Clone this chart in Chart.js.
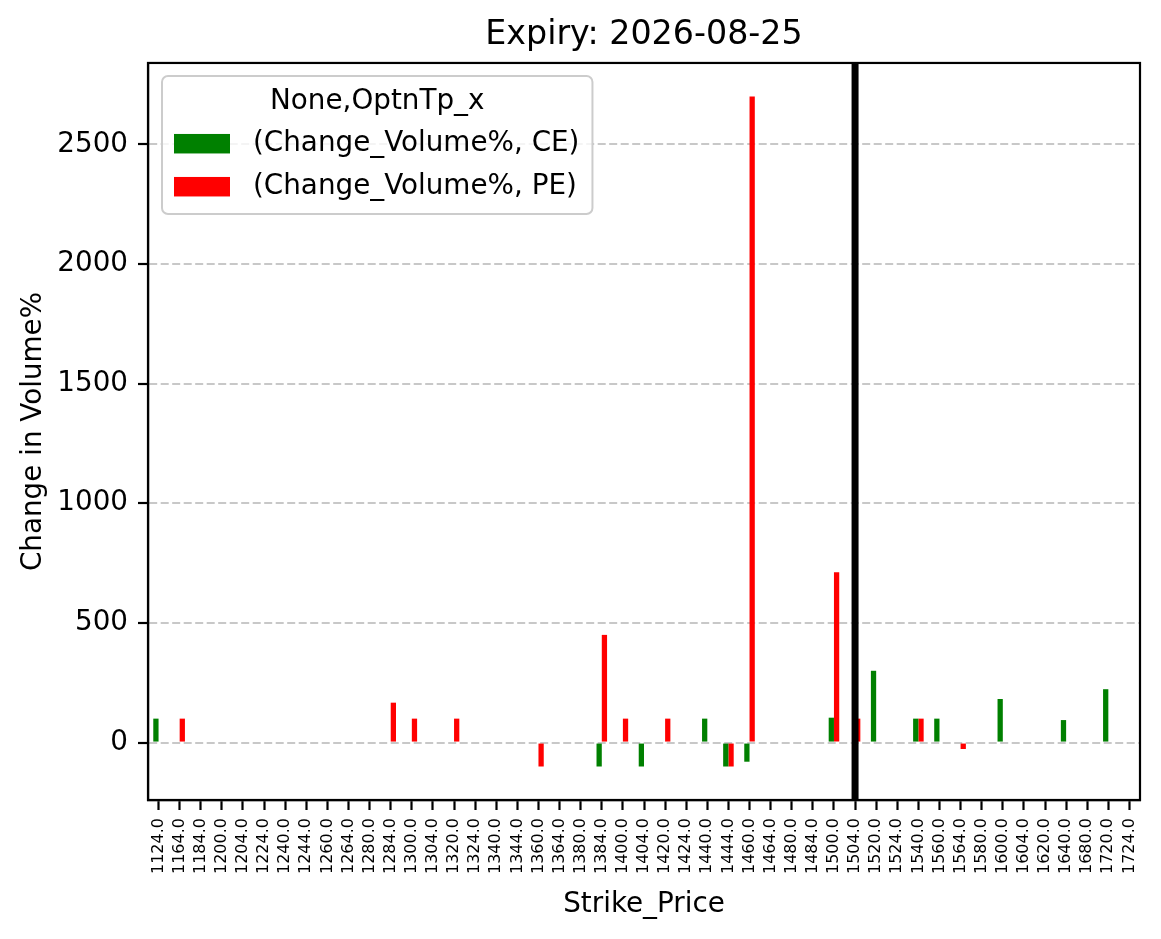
<!DOCTYPE html>
<html>
<head>
<meta charset="utf-8">
<script src="https://cdn.jsdelivr.net/npm/chart.js@4.4.1/dist/chart.umd.min.js"></script>
<style>
  html, body { margin: 0; padding: 0; background: #fff; }
</style>
</head>
<body>
<canvas id="myChart" width="1161" height="939"></canvas>
<script>
// strike prices on the x axis
const strikes = ['1124.0', '1164.0', '1184.0', '1200.0', '1204.0', '1224.0', '1240.0', '1244.0',
    '1260.0', '1264.0', '1280.0', '1284.0', '1300.0', '1304.0', '1320.0', '1324.0',
    '1340.0', '1344.0', '1360.0', '1364.0', '1380.0', '1384.0', '1400.0', '1404.0',
    '1420.0', '1424.0', '1440.0', '1444.0', '1460.0', '1464.0', '1480.0', '1484.0',
    '1500.0', '1504.0', '1520.0', '1524.0', '1540.0', '1560.0', '1564.0', '1580.0',
    '1600.0', '1604.0', '1620.0', '1640.0', '1680.0', '1720.0', '1724.0'];

// Change_Volume% for calls
const ceChange = [100, null, null, null, null, null, null, null,
    null, null, null, null, null, null, null, null,
    null, null, null, null, null, -100, null, -100,
    null, null, 100, -100, -80, null, null, null,
    104, null, 300, null, 100, 100, null, null,
    182, null, null, 94, null, 223, null];

// Change_Volume% for puts
const peChange = [null, 100, null, null, null, null, null, null,
    null, null, null, 166.7, 100, null, 100, null,
    null, null, -100, null, null, 450, 100, null,
    100, null, null, -100, 2700, null, null, null,
    712, 100, null, null, 100, null, -27, null,
    null, null, null, null, null, null, null];

const yTicks = [0, 500, 1000, 1500, 2000, 2500];
const spotStrike = '1504.0';

Chart.defaults.font.family = '"DejaVu Sans", sans-serif';
Chart.defaults.color = 'black';

// spot line + top/right spines
const frame = {
    id: 'frame',
    afterDatasetsDraw(chart) {
        const {ctx, chartArea: a, scales: {x}} = chart;
        const sx = x.getPixelForValue(strikes.indexOf(spotStrike));
        ctx.save();
        ctx.strokeStyle = 'black';
        ctx.lineWidth = 7;
        ctx.beginPath();
        ctx.moveTo(sx, a.top);
        ctx.lineTo(sx, a.bottom);
        ctx.stroke();
        ctx.lineWidth = 2.2;
        ctx.strokeRect(a.left, a.top, a.right - a.left, a.bottom - a.top);
        ctx.restore();
    }
};

// matplotlib style legend in the upper left corner
const legendBox = {
    id: 'legendBox',
    afterDraw(chart) {
        const {ctx, chartArea: a} = chart;
        const x0 = a.left + 14, y0 = a.top + 13;
        ctx.save();
        ctx.font = '27.8px "DejaVu Sans"';
        let tw = 0;
        chart.data.datasets.forEach(ds => { tw = Math.max(tw, ctx.measureText(ds.label).width); });
        const w = 91 + tw + 13, h = 138;
        ctx.beginPath();
        ctx.roundRect(x0, y0, w, h, 6);
        ctx.fillStyle = 'rgba(255,255,255,0.8)';
        ctx.fill();
        ctx.strokeStyle = '#cccccc';
        ctx.lineWidth = 2;
        ctx.stroke();
        ctx.fillStyle = 'black';
        ctx.textBaseline = 'middle';
        ctx.textAlign = 'center';
        ctx.fillText('None,OptnTp_x', x0 + w / 2, y0 + 26);
        ctx.textAlign = 'left';
        chart.data.datasets.forEach((ds, i) => {
            const cy = y0 + 68 + i * 43;
            ctx.fillStyle = ds.backgroundColor;
            ctx.fillRect(x0 + 12, cy - 10, 56, 19.5);
            ctx.fillStyle = 'black';
            ctx.fillText(ds.label, x0 + 91, cy);
        });
        ctx.restore();
    }
};

let myChart = document.getElementById('myChart').getContext('2d');
let chart = new Chart(myChart, {
    type: 'bar',
    data: {
        labels: strikes,
        datasets: [{
            label: '(Change_Volume%, CE)',
            data: ceChange,
            backgroundColor: '#008000',
            categoryPercentage: 0.5,
            barPercentage: 1.0
        }, {
            label: '(Change_Volume%, PE)',
            data: peChange,
            backgroundColor: '#ff0000',
            categoryPercentage: 0.5,
            barPercentage: 1.0
        }]
    },
    options: {
        responsive: false,
        animation: false,
        devicePixelRatio: 1,
        layout: { padding: { right: 21 } },
        plugins: {
            legend: { display: false },
            tooltip: { enabled: false },
            title: {
                display: true,
                text: 'Expiry: 2026-08-25',
                fullSize: false,
                color: 'black',
                font: { size: 33.3, weight: 'normal' },
                padding: { top: 15, bottom: 8 }
            }
        },
        scales: {
            x: {
                grid: {
                    display: true,
                    drawOnChartArea: false,
                    offset: false,
                    tickLength: 10,
                    tickWidth: 2.2,
                    tickColor: 'black'
                },
                border: { color: 'black', width: 2.2 },
                ticks: {
                    autoSkip: false,
                    minRotation: 90,
                    maxRotation: 90,
                    padding: 8,
                    color: 'black',
                    font: { size: 16 }
                },
                title: {
                    display: true,
                    text: 'Strike_Price',
                    color: 'black',
                    font: { size: 27.8 },
                    padding: { top: 0, bottom: 18 }
                },
                afterFit(scale) { scale.height = 139; }
            },
            y: {
                min: -240,
                max: 2840,
                afterBuildTicks(scale) { scale.ticks = yTicks.map(v => ({ value: v })); },
                ticks: {
                    padding: 10,
                    color: 'black',
                    font: { size: 27.8 },
                    callback: v => String(v)
                },
                grid: {
                    color: '#c8c8c8',
                    lineWidth: 2,
                    tickLength: 10,
                    tickWidth: 2.2,
                    tickColor: 'black',
                    tickBorderDash: []
                },
                border: { color: 'black', width: 2.2, dash: [8, 3.5] },
                title: {
                    display: true,
                    text: 'Change in Volume%',
                    color: 'black',
                    font: { size: 27.8 },
                    padding: { top: 17, bottom: 0 }
                },
                afterFit(scale) { scale.width = 148; }
            }
        }
    },
    plugins: [frame, legendBox]
});
</script>
</body>
</html>
